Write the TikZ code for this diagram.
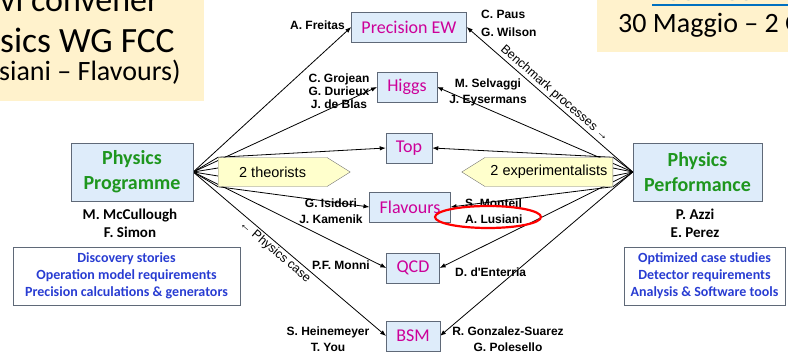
\documentclass[tikz,border=0pt]{standalone}
\usepackage{fontspec}
\setmainfont{Carlito}
\newfontfamily\arialf{Liberation Sans}
\usepackage{xcolor}
\usetikzlibrary{arrows.meta, shapes.symbols, shapes.geometric, backgrounds}

\definecolor{boxfill}{RGB}{222,236,250}
\definecolor{boxline}{RGB}{95,105,120}
\definecolor{topicpink}{RGB}{204,0,153}
\definecolor{wggreen}{RGB}{30,150,30}
\definecolor{taskblue}{RGB}{40,60,210}
\definecolor{calloutfill}{RGB}{255,255,204}
\definecolor{calloutline}{RGB}{120,120,120}
\definecolor{slidebeige}{RGB}{255,242,204}
\definecolor{linkblue}{RGB}{0,112,192}

\begin{document}
\begin{tikzpicture}[
    x=1pt, y=-1pt,
    topic/.style={
        draw=boxline,
        fill=boxfill,
        text=topicpink,
        font=\fontsize{18}{20}\selectfont,
        inner xsep=10pt,
        minimum height=30pt
    },
    wg/.style={
        draw=boxline,
        fill=boxfill,
        text=wggreen,
        font=\bfseries\fontsize{20}{25}\selectfont,
        align=center,
        minimum height=58pt
    },
    tasks/.style={
        draw=boxline,
        text=taskblue,
        font=\bfseries\fontsize{14}{17}\selectfont,
        align=center,
        minimum height=58pt
    },
    people/.style={font=\arialf\bfseries\fontsize{12}{16}\selectfont, inner sep=0pt},
    conveners/.style={font=\bfseries\fontsize{15}{18}\selectfont, align=center},
    callout/.style={
        signal,
        draw=calloutline,
        fill=calloutfill,
        font=\arialf\fontsize{14.5}{16}\selectfont,
        minimum height=29pt,
        signal pointer angle=64
    },
    link/.style={-{Latex[length=6pt,width=4.5pt]}, line width=0.8pt},
    fan/.style={line width=0.8pt},
    along/.style={font=\arialf\fontsize{12.5}{14}\selectfont, sloped, inner sep=1.5pt}
]
\useasboundingbox (0,0) rectangle (788,361);

% slide boxes cut by the frame
\fill[slidebeige] (-5,-5) rectangle (204,101);
\node[anchor=base west, inner sep=0pt, font=\fontsize{34}{40}\selectfont] (conv1) at (0,12) {vi convener};
\node[anchor=base west, inner sep=0pt, font=\fontsize{35.5}{40}\selectfont] (conv2) at (0,53) {sics WG FCC};
\node[anchor=base west, inner sep=0pt, font=\fontsize{28}{30}\selectfont] (conv3) at (-1,81) {siani – Flavours)};

\fill[slidebeige] (597,-5) rectangle (795,52);
\node[anchor=base west, inner sep=0pt, text=linkblue, font=\fontsize{28}{32}\selectfont] (week) at (652,1) {FCC Week 2019};
\draw[linkblue, line width=2pt] ([yshift=-4pt]week.base west) -- ([yshift=-4pt]week.base east);
\node[anchor=base west, inner sep=0pt, font=\fontsize{28}{32}\selectfont] (dates) at (618,33) {30 Maggio – 2 Giugno};

% working groups
\node[wg, minimum width=122pt] (prog) at (132,172) {Physics\\Programme};
\node[wg, minimum width=129pt] (perf) at (697.5,172) {Physics\\Performance};
\node[conveners] (progconv) at (130,223) {M. McCullough\\F. Simon};
\node[conveners] (perfconv) at (695,223) {P. Azzi\\E. Perez};

\node[tasks, minimum width=227pt] (progtasks) at (126.5,276) {Discovery stories\\Operation model requirements\\Precision calculations \& generators};
\node[tasks, minimum width=161pt] (perftasks) at (704.5,276) {Optimized case studies\\Detector requirements\\Analysis \& Software tools};

% topics
\node[topic] (prec) at (409,27) {Precision EW};
\node[topic] (higgs) at (407,87) {Higgs};
\node[topic] (top) at (409,148) {Top};
\node[topic] (flav) at (410,207) {Flavours};
\node[topic] (qcd) at (413,268) {QCD};
\node[topic] (bsm) at (413,336) {BSM};

\node[callout, signal to=east, anchor=west, minimum width=132pt] (theo) at (218,172) {2 theorists};
\node[callout, signal to=west, anchor=east, minimum width=151pt] (expt) at (613,172) {2 experimentalists};

% conveners per topic
\node[people, anchor=east] (freitas) at (345,25) {A. Freitas};
\node[people, anchor=west, align=left, font=\arialf\bfseries\fontsize{12}{18}\selectfont] (paus) at (481,23) {C. Paus\\G. Wilson};
\node[people, align=center, font=\arialf\bfseries\fontsize{12}{13}\selectfont] (grojean) at (339,91) {C. Grojean\\G. Durieux\\J. de Blas};
\node[people, align=center] (selvaggi) at (488,92) {M. Selvaggi\\J. Eysermans};
\node[people, align=center] (isidori) at (331,211) {G. Isidori\\J. Kamenik};
\node[people, anchor=west, align=left] (monteil) at (465,211) {S. Monteil\\A. Lusiani};
\node[people, anchor=east] (monni) at (370,265) {P.F. Monni};
\node[people, anchor=west] (enterria) at (455,272) {D. d'Enterria};
\node[people, align=center] (heinemeyer) at (328,339) {S. Heinemeyer\\T. You};
\node[people, align=center] (gonzalez) at (508,339) {R. Gonzalez-Suarez\\G. Polesello};

\node[draw=red, line width=2.2pt, ellipse, minimum width=106pt, minimum height=22pt] (lusiani) at (488,217) {};

\begin{scope}[on background layer]
% Physics Programme side
\draw[link] (prog.east) -- (prec.west);
\draw[link] (prog.east) -- (higgs.west);
\draw[link] (prog.east) -- (theo.west |- theo.north) -- (top.west);
\draw[fan] (prog.east) -- ([yshift=4pt]theo.west);
\draw[fan] (prog.east) -- ([yshift=-4pt]theo.west);
\draw[link] (prog.east) -- (theo.west |- theo.south) -- (flav.west);
\draw[link] (prog.east) -- (qcd.west);
\draw[link] (prog.east) -- node[along, below, pos=0.45] {← Physics case} (bsm.west);
% Physics Performance side
\draw[link] (perf.west) -- node[along, above, pos=0.5] {Benchmark processes →} (prec.east);
\draw[link] (perf.west) -- (higgs.east);
\draw[link] (perf.west) -- (expt.east |- expt.north) -- (top.east);
\draw[fan] (perf.west) -- ([yshift=4pt]expt.east);
\draw[fan] (perf.west) -- ([yshift=-4pt]expt.east);
\draw[link] (perf.west) -- (expt.east |- expt.south) -- (flav.east);
\draw[link] (perf.west) -- (qcd.east);
\draw[link] (perf.west) -- (bsm.east);
\end{scope}

\end{tikzpicture}
\end{document}
